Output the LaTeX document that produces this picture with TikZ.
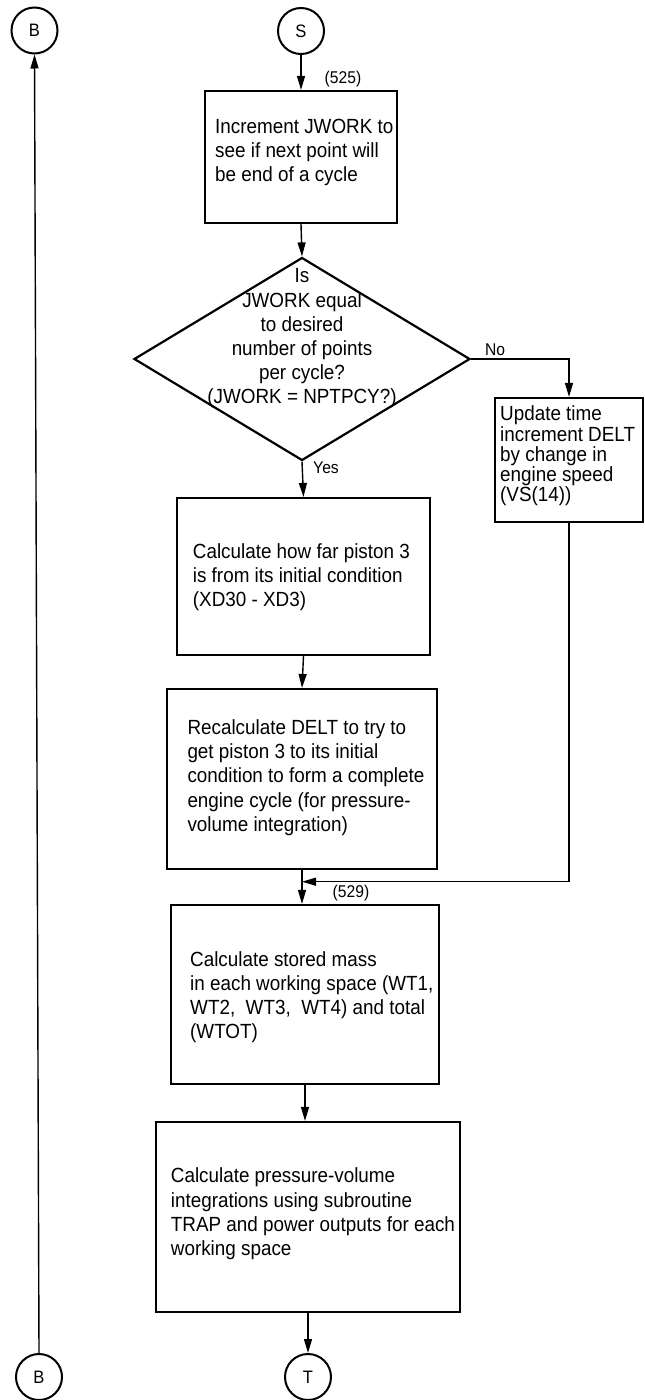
\documentclass[tikz,border=0pt]{standalone}
\usepackage{fontspec}
\setmainfont{Liberation Sans}[FakeStretch=0.92]
\usetikzlibrary{shapes.geometric,arrows.meta}
\begin{document}
\begin{tikzpicture}[x=1pt,y=-1pt,
  box/.style={draw, line width=2.2pt, inner sep=0pt},
  term/.style={draw, circle, line width=2pt, minimum size=46pt, inner sep=0pt, font=\fontsize{18}{20}\selectfont},
  txt/.style={anchor=north west, inner sep=0pt, align=left, font=\fontsize{20.5}{24.2}\selectfont},
  lbl/.style={inner sep=0pt, font=\fontsize{17}{20}\selectfont},
  arr/.style={line width=1.4pt, -{Triangle[length=14pt,width=8pt]}}]
\useasboundingbox (0,0) rectangle (645,1400);

% terminals
\node[term] (Btop) at (34.5,30.5) {B};
\node[term] (S) at (301,31) {S};
\node[term] (T) at (308,1377) {T};
\node[term] (Bbot) at (39,1377) {B};

% boxes
\node[box, minimum width=192pt, minimum height=132pt] (b1) at (301,157) {};
\node[draw, diamond, line width=2.2pt, inner sep=0pt, minimum width=336pt, minimum height=203pt] (dia) at (302,359) {};
\node[box, minimum width=148pt, minimum height=124pt] (upd) at (569,460) {};
\node[box, minimum width=253pt, minimum height=157pt] (b2) at (303.5,576.5) {};
\node[box, minimum width=270pt, minimum height=180pt] (b3) at (302,779) {};
\node[box, minimum width=268pt, minimum height=179pt] (b4) at (305,994.5) {};
\node[box, minimum width=304pt, minimum height=190pt] (b5) at (308,1217) {};

% texts
\node[txt] (t1) at (215,116) {\strut Increment JWORK to\\see if next point will\\be end of a cycle};
\node[txt, anchor=north, align=center] (td) at (302,265.8) {\strut Is\\JWORK equal\\to desired\\number of points\\per cycle?\\(JWORK = NPTPCY?)};
\node[txt, font=\fontsize{20.5}{20}\selectfont] (tu) at (500,405) {\strut Update time\\increment DELT\\by change in\\engine speed\\(VS(14))};
\node[txt] (t2) at (192.7,541) {\strut Calculate how far piston 3\\is from its initial condition\\(XD30 - XD3)};
\node[txt] (t3) at (187.3,717.4) {\strut Recalculate DELT to try to\\get piston 3 to its initial\\condition to form a complete\\engine cycle (for pressure-\\volume integration)};
\node[txt] (t4) at (190,949) {\strut Calculate stored mass\\in each working space (WT1,\\WT2, \ WT3, \ WT4) and total\\(WTOT)};
\node[txt] (t5) at (170.7,1165.7) {\strut Calculate pressure-volume\\integrations using subroutine\\TRAP and power outputs for each\\working space};

% labels
\node[lbl] (l525) at (343,79) {(525)};
\node[lbl] (lno) at (495,350) {No};
\node[lbl] (lyes) at (326,468) {Yes};
\node[lbl] (l529) at (351,893) {(529)};

% connectors
\coordinate (j529) at (302,881.7);
\draw[arr] (S.south) -- (b1.north);
\draw[arr] (b1.south) -- (dia.north);
\draw[arr] (dia.south) -- (b2.north);
\draw[arr] (dia.east) -| (upd.north);
\draw[arr] (b2.south) -- (b3.north);
\draw[arr] (b3.south) -- (b3.south |- b4.north);
\draw[arr] (upd.south) |- (j529);
\draw[arr] (b4.south) -- (b4.south |- b5.north);
\draw[arr] (b5.south) -- (T.north);
\draw[arr] (Bbot.north) -- (Btop.south);
\end{tikzpicture}
\end{document}
